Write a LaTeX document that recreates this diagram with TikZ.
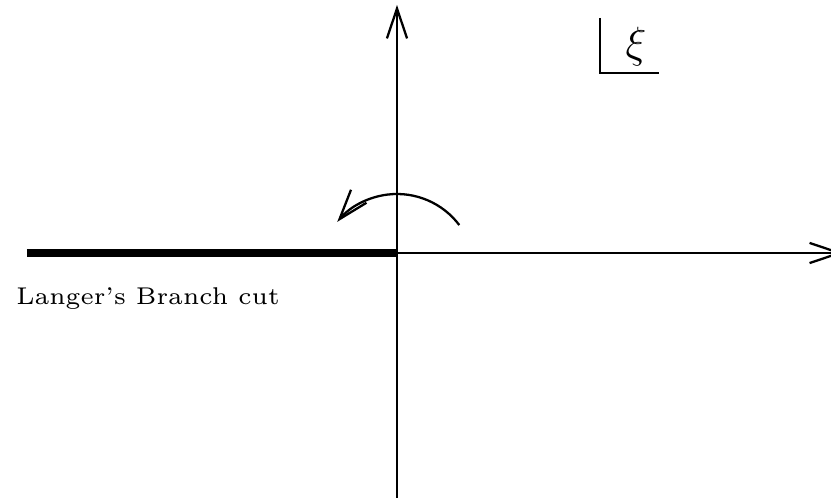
\documentclass[tikz,border=0pt]{standalone}
\usepackage{amsmath,amssymb}
\usetikzlibrary{arrows.meta,positioning,calc}
\tikzset{
  axis/.style={-{Straight Barb[length=17pt,width=11.5pt]}, line width=1.3pt},
  cutline/.style={line width=4.4pt},
  rot/.style={-{Straight Barb[length=17pt,width=11.5pt]}, line width=1.3pt},
  planelbl/.style={font=\fontsize{24}{28}\selectfont, inner sep=3pt},
  cutlbl/.style={font=\fontsize{6}{7}\selectfont, scale=2.3, transform shape, anchor=base},
}
\begin{document}
\begin{tikzpicture}
  \useasboundingbox (-7.94,-4.9) rectangle (8.68,5.06);
  \coordinate (O) at (0,0);
  \coordinate (xend) at (8.92,0);
  \coordinate (ytop) at (0,4.96);
  \coordinate (ybot) at (0,-4.95);
  \coordinate (cutend) at (-7.4,0);
  \draw[axis] (O) -- (xend);
  \draw[axis] (ybot) -- (ytop);
  \draw[cutline] (cutend) -- (O);
  \node[cutlbl] (cut) at (-4.98,-1.04) {Langer's Branch cut};
  % rotation arrow
  \coordinate (rc) at (0,-0.38);
  \draw[rot] ($(rc)+(37:1.56)$) arc[start angle=37, end angle=140, radius=1.56];
  % plane label
  \node[planelbl] (xi) at (4.78,4.12) {$\xi$};
  \draw[line width=1.3pt] (4.06,4.7) |- (5.24,3.6);
\end{tikzpicture}
\end{document}
